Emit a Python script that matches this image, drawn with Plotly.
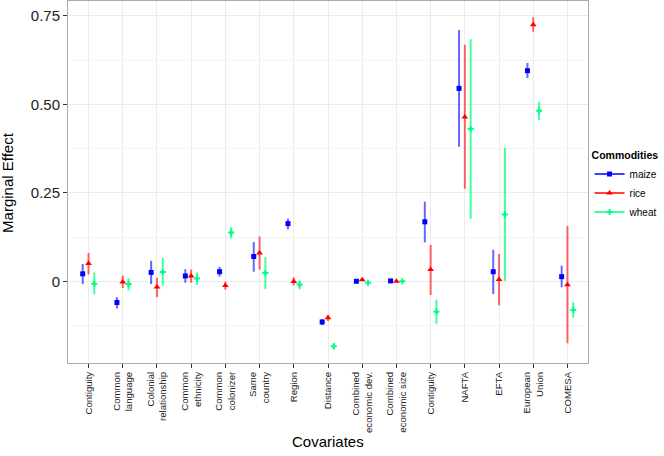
import plotly.graph_objects as go

categories = ["Contiguity", "Common<br>language", "Colonial<br>relationship", "Common<br>ethnicity",
              "Common<br>colonizer", "Same<br>country", "Region", "Distance",
              "Combined<br>economic dev.", "Combined<br>economic size", "Contiguity", "NAFTA",
              "EFTA", "European<br>Union", "COMESA"]

maize = [0.021, -0.060, 0.025, 0.015, 0.027, 0.070, 0.163, -0.115, 0.000, 0.001, 0.168, 0.545, 0.027, 0.595, 0.013]
maize_hi = [0.049, -0.045, 0.058, 0.034, 0.041, 0.111, 0.177, -0.107, 0.003, 0.003, 0.225, 0.710, 0.089, 0.617, 0.044]
maize_lo = [-0.008, -0.077, -0.008, -0.004, 0.013, 0.027, 0.147, -0.124, -0.003, -0.002, 0.110, 0.380, -0.036, 0.574, -0.017]

rice = [0.050, -0.002, -0.016, 0.015, -0.012, 0.080, -0.001, -0.103, 0.004, 0.000, 0.033, 0.464, 0.005, 0.725, -0.010]
rice_hi = [0.080, 0.016, 0.010, 0.033, -0.001, 0.126, 0.011, -0.095, 0.007, 0.003, 0.103, 0.668, 0.077, 0.746, 0.156]
rice_lo = [0.019, -0.019, -0.045, -0.004, -0.024, 0.033, -0.012, -0.112, 0.001, -0.003, -0.039, 0.261, -0.068, 0.705, -0.175]

wheat = [-0.007, -0.008, 0.026, 0.008, 0.138, 0.023, -0.009, -0.184, -0.004, 0.000, -0.086, 0.430, 0.189, 0.482, -0.081]
wheat_hi = [0.025, 0.008, 0.066, 0.025, 0.153, 0.068, 0.002, -0.175, -0.002, 0.002, -0.052, 0.684, 0.377, 0.507, -0.059]
wheat_lo = [-0.037, -0.026, -0.013, -0.010, 0.121, -0.022, -0.023, -0.193, -0.006, -0.002, -0.120, 0.177, 0.001, 0.455, -0.103]

y_ticks = [0, 0.25, 0.5, 0.75]
y_tick_labels = ["0", "0.25", "0.50", "0.75"]

series = [
    ("maize", maize, maize_hi, maize_lo, "#0000FF", "rgba(0,0,255,0.6)", "square", -0.17, 5),
    ("rice", rice, rice_hi, rice_lo, "#FF0000", "rgba(255,0,0,0.6)", "triangle-up", 0.0, 6),
    ("wheat", wheat, wheat_hi, wheat_lo, "#00FF7F", "rgba(0,255,127,0.75)", "cross", 0.17, 5),
]

fig = go.Figure()
n = len(categories)
for name, v, hi, lo, col, ecol, sym, off, sz in series:
    xs = [i + 1 + off for i in range(n)]
    fig.add_trace(go.Scatter(
        x=xs, y=v, mode="markers", showlegend=False, name=name,
        marker=dict(color=col, symbol=sym, size=sz, line=dict(width=0)),
        error_y=dict(type="data", symmetric=False,
                     array=[h - m for h, m in zip(hi, v)],
                     arrayminus=[m - l for m, l in zip(v, lo)],
                     color=ecol, thickness=2, width=0),
    ))
    fig.add_trace(go.Scatter(
        x=[None], y=[None], mode="lines+markers", name=name, showlegend=True,
        marker=dict(color=col, symbol=sym, size=sz), line=dict(color=col, width=1.5),
    ))

fig.update_layout(
    width=664, height=456,
    margin=dict(l=68, r=76, t=1, b=93, autoexpand=False),
    paper_bgcolor="white", plot_bgcolor="white",
    font=dict(family="Liberation Sans, Arial, sans-serif", color="black"),
    legend=dict(
        title=dict(text="<b>Commodities</b>", font=dict(size=10.5)),
        font=dict(size=10), x=1.003, y=0.60, xanchor="left", yanchor="top",
        tracegroupgap=0, itemwidth=30,
    ),
    xaxis=dict(
        range=[0.4, n + 0.6], tickvals=list(range(1, n + 1)), ticktext=categories,
        tickangle=-90, tickfont=dict(size=9.6, color="#222"), automargin=False,
        showgrid=True, gridcolor="#EBEBEB", gridwidth=1,
        showline=True, linecolor="#AAAAAA", mirror=True, linewidth=1,
        ticks="outside", ticklen=4, tickcolor="#333", zeroline=False,
    ),
    yaxis=dict(
        range=[-0.231, 0.792], tickvals=y_ticks, ticktext=y_tick_labels,
        tickfont=dict(size=15, color="#222"), automargin=False,
        showgrid=True, gridcolor="#EBEBEB", gridwidth=1,
        minor=dict(tickvals=[-0.125, 0.125, 0.375, 0.625], showgrid=True, gridcolor="#F4F4F4"),
        showline=True, linecolor="#AAAAAA", mirror=True, linewidth=1,
        ticks="outside", ticklen=4, tickcolor="#333", zeroline=False,
    ),
    annotations=[
        dict(text="Covariates", xref="paper", yref="paper", x=0.5, y=-0.218,
             xanchor="center", yanchor="middle", showarrow=False, font=dict(size=15)),
        dict(text="Marginal Effect", xref="paper", yref="paper", x=-0.1175, y=0.5,
             xanchor="center", yanchor="middle", textangle=-90, showarrow=False, font=dict(size=15)),
    ],
)

fig.write_html("out.html", config={"displayModeBar": False},
               post_script="document.body.style.margin='0';")
